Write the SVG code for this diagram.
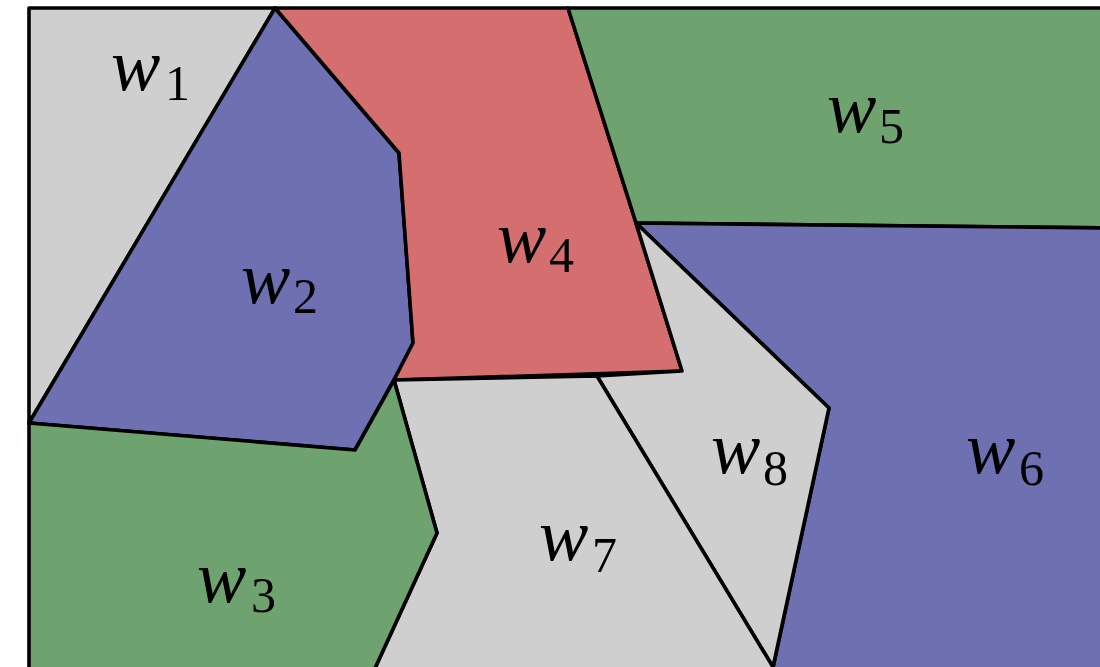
<svg xmlns="http://www.w3.org/2000/svg" width="1100" height="667" viewBox="0 0 1100 667">
<style>
.r{stroke:#000;stroke-width:3.6;stroke-linejoin:round}
.gray{fill:#cfcfcf}.blue{fill:#6f70b1}.red{fill:#d56f6f}.green{fill:#6ea26e}
.w{font-family:"Liberation Serif",serif;font-style:italic;font-size:74px;fill:#000}
.s{font-family:"Liberation Serif",serif;font-size:50px;fill:#000}
</style>
<rect width="1100" height="667" fill="#fff"/>
<g id="w1"><polygon class="r gray" points="29,8 275,8 29,423"/><text class="w" x="111" y="90">w</text><text class="s" x="165" y="100">1</text></g>
<g id="w2"><polygon class="r blue" points="275,8 399,153 413,343 394,380 355,450 29,423"/><text class="w" x="241" y="303">w</text><text class="s" x="293" y="313">2</text></g>
<g id="w4"><polygon class="r red" points="275,8 568,8 636,223 682,371 394,380 413,343 399,153"/><text class="w" x="497" y="262">w</text><text class="s" x="549" y="272">4</text></g>
<g id="w5"><polygon class="r green" points="568,8 1110,8 1110,228 636,223"/><text class="w" x="827" y="132">w</text><text class="s" x="879" y="143">5</text></g>
<g id="w6"><polygon class="r blue" points="636,223 1110,228 1110,677 771,677 829,408"/><text class="w" x="966" y="473">w</text><text class="s" x="1019" y="485">6</text></g>
<g id="w8"><polygon class="r gray" points="636,223 829,408 773,667 597,376 682,371"/><text class="w" x="711" y="473">w</text><text class="s" x="763" y="485">8</text></g>
<g id="w7"><polygon class="r gray" points="394,380 597,376 779,677 371,677 437,533"/><text class="w" x="539" y="560">w</text><text class="s" x="592" y="572">7</text></g>
<g id="w3"><polygon class="r green" points="29,423 355,450 394,380 437,533 371,677 29,677"/><text class="w" x="197" y="602">w</text><text class="s" x="251" y="612">3</text></g>
<g id="connectors"/>
</svg>
